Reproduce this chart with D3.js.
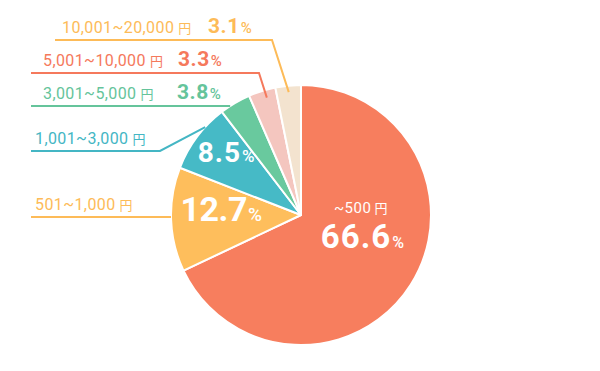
<!DOCTYPE html>
<html>
<head>
<meta charset="utf-8">
<script src="https://cdn.jsdelivr.net/npm/d3@7"></script>
<style>
  body { margin: 0; background: #fff; }
  svg { display: block; }
  text { font-family: Roboto, "Noto Sans CJK JP", sans-serif; }
</style>
</head>
<body>
<svg id="chart"></svg>
<script>
// data
var categories = ["~500", "501~1,000", "1,001~3,000", "3,001~5,000", "5,001~10,000", "10,001~20,000"];
var values = [66.6, 12.7, 8.5, 3.8, 3.3, 3.1];
var sliceColors = ["#F77E5E", "#FEBE5C", "#46BAC6", "#69C99E", "#F4C6BF", "#F3E3CF"];
var textColors = ["#F77E5E", "#FDBB58", "#44B6C4", "#65C49B", "#F5795C", "#FDBB58"];
var unit = "円";

var screen = { width: 600, height: 371 };
var svg = d3.select("svg#chart")
            .attr("width", screen.width)
            .attr("height", screen.height);

var cx = 301, cy = 215, radius = 130;

var pie = d3.pie().sort(null).value(function(d){ return d; });
var arcs = pie(values);
var arc = d3.arc().innerRadius(0).outerRadius(radius);

var plot = svg.append("g")
              .attr("transform", "translate(" + cx + "," + cy + ")");

plot.selectAll("path")
    .data(arcs)
    .enter()
    .append("path")
    .attr("d", arc)
    .attr("fill", function(d, i){ return sliceColors[i]; })
    .attr("stroke", "#fff")
    .attr("stroke-width", 2)
    .attr("stroke-linejoin", "round");

// point on the slice, f = where in the slice (0..1, 0.5 = middle)
var pointAt = function(d, r, f) {
  if (f == null) f = 0.5;
  var a = d.startAngle + (d.endAngle - d.startAngle) * f;
  return [r * Math.sin(a), -r * Math.cos(a)];
};

// inner labels (big slices) - offsets from the slice's mid point
var inner = [
  { i: 0, r: 0.5, dx: 7, dy: -14, size: 33, pct: 16, cat: true },
  { i: 1, r: 0.6, dx: -2, dy: -9, size: 34, pct: 19 },
  { i: 2, r: 0.6, dx: -12, dy: -16, size: 28, pct: 17 }
];

inner.forEach(function(o) {
  var p = pointAt(arcs[o.i], radius * o.r);
  var base = p[1] + o.dy + o.size * 0.36;
  var t = plot.append("text")
              .attr("x", p[0] + o.dx)
              .attr("y", base)
              .attr("text-anchor", "middle")
              .attr("fill", "#fff")
              .attr("font-weight", 700)
              .attr("font-size", o.size)
              .attr("letter-spacing", o.i == 1 ? -0.5 : 1);
  t.append("tspan").text(values[o.i].toFixed(1));
  t.append("tspan").attr("font-size", o.pct).attr("font-weight", 500).attr("dx", 1).text("%");
  if (o.cat) {
    var c = plot.append("text")
                .attr("x", p[0] + o.dx - 2)
                .attr("y", base - 35)
                .attr("text-anchor", "middle")
                .attr("fill", "#fff")
                .attr("font-size", 15)
                .attr("font-weight", 400)
                .attr("letter-spacing", 0.5);
    c.append("tspan").text(categories[o.i]);
    c.append("tspan").attr("font-size", 13).attr("dx", 3).text(unit);
  }
});

// outside labels with leader lines
// lineY: horizontal line, x0: start, bendX: where it turns, endR/endF: where it ends in the slice (no bend = runs to the edge)
var outer = [
  { i: 1, lineY: 217, x0: 31, textX: 35, pctX: null },
  { i: 2, lineY: 151, x0: 31, textX: 35, pctX: null, bendX: 160, endR: 1.0, endF: 0.68 },
  { i: 3, lineY: 106, x0: 31, textX: 43, pctX: 177 },
  { i: 4, lineY: 73, x0: 31, textX: 43, pctX: 178, bendX: 259, endR: 0.94, endF: 0.6 },
  { i: 5, lineY: 40, x0: 55, textX: 62, pctX: 208, bendX: 272, endR: 0.95, endF: 0.5 }
];

var labels = svg.append("g").classed("labels", true);

outer.forEach(function(o) {
  var col = textColors[o.i];
  var y = o.lineY - cy;
  var pts = [[o.x0 - cx, y]];
  if (o.bendX) {
    pts.push([o.bendX - cx, y]);
    pts.push(pointAt(arcs[o.i], radius * o.endR, o.endF));
  } else {
    pts.push([-Math.sqrt(radius * radius - y * y), y]);
  }
  labels.append("path")
        .attr("transform", "translate(" + cx + "," + cy + ")")
        .attr("d", d3.line()(pts))
        .attr("fill", "none")
        .attr("stroke", col)
        .attr("stroke-width", 2);

  var t = labels.append("text")
                .attr("x", o.textX)
                .attr("y", o.lineY - 7)
                .attr("fill", col)
                .attr("font-size", 16)
                .attr("font-weight", 400)
                .attr("letter-spacing", 0.4);
  t.append("tspan").text(categories[o.i]);
  t.append("tspan").attr("font-size", 13).attr("dx", 4).text(unit);

  if (o.pctX) {
    var p = labels.append("text")
                  .attr("x", o.pctX)
                  .attr("y", o.lineY - 7)
                  .attr("fill", col)
                  .attr("font-weight", 700)
                  .attr("font-size", 21)
                  .attr("letter-spacing", 0.5);
    p.append("tspan").text(values[o.i].toFixed(1));
    p.append("tspan").attr("font-size", 15).attr("font-weight", 500).attr("dx", 1).text("%");
  }
});
</script>
</body>
</html>
